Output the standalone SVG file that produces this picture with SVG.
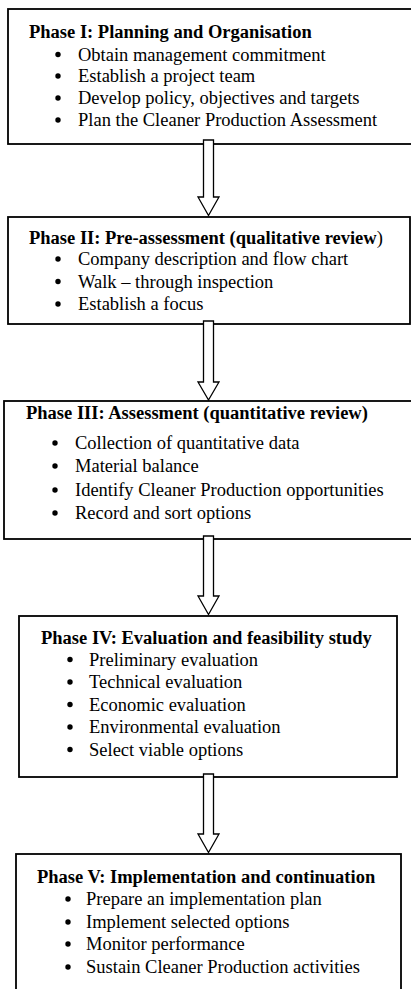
<svg xmlns="http://www.w3.org/2000/svg" width="411" height="989" viewBox="0 0 411 989">
<style>
.box{fill:#fff;stroke:#000;stroke-width:1.8}
.arr{fill:#fff;stroke:#000;stroke-width:1.3;stroke-linejoin:miter}
text{font-family:"Liberation Serif","Times New Roman",serif;font-size:18.5px;fill:#000}
.t{font-weight:bold}
.dot{fill:#000}
</style>
<rect width="411" height="989" fill="#fff"/>
<g id="phase1">
<rect class="box" x="8" y="9" width="410" height="135"/>
<text class="t" x="29" y="37.5">Phase I: Planning and Organisation</text>
<circle class="dot" cx="58" cy="54.5" r="2.7"/><text x="78" y="60.5">Obtain management commitment</text>
<circle class="dot" cx="58" cy="76" r="2.7"/><text x="78" y="82">Establish a project team</text>
<circle class="dot" cx="58" cy="98" r="2.7"/><text x="78" y="104">Develop policy, objectives and targets</text>
<circle class="dot" cx="58" cy="120" r="2.7"/><text x="78" y="126">Plan the Cleaner Production Assessment</text>
</g>
<g id="phase2">
<rect class="box" x="8" y="217" width="402" height="107"/>
<text class="t" x="29" y="244">Phase II: Pre-assessment (qualitative review<tspan font-weight="normal">)</tspan></text>
<circle class="dot" cx="58" cy="259" r="2.7"/><text x="78" y="265">Company description and flow chart</text>
<circle class="dot" cx="58" cy="281.5" r="2.7"/><text x="78" y="287.5">Walk – through inspection</text>
<circle class="dot" cx="58" cy="304" r="2.7"/><text x="78" y="310">Establish a focus</text>
</g>
<g id="phase3">
<rect class="box" x="4" y="401" width="410" height="138"/>
<text class="t" x="26" y="418.5">Phase III: Assessment (quantitative review)</text>
<circle class="dot" cx="55" cy="443" r="2.7"/><text x="75" y="449">Collection of quantitative data</text>
<circle class="dot" cx="55" cy="466" r="2.7"/><text x="75" y="472">Material balance</text>
<circle class="dot" cx="55" cy="490" r="2.7"/><text x="75" y="496">Identify Cleaner Production opportunities</text>
<circle class="dot" cx="55" cy="513" r="2.7"/><text x="75" y="519">Record and sort options</text>
</g>
<g id="phase4">
<rect class="box" x="19" y="616" width="378" height="161"/>
<text class="t" x="41" y="643.5">Phase IV: Evaluation and feasibility study</text>
<circle class="dot" cx="70" cy="659.5" r="2.7"/><text x="89" y="665.5">Preliminary evaluation</text>
<circle class="dot" cx="70" cy="682" r="2.7"/><text x="89" y="688">Technical evaluation</text>
<circle class="dot" cx="70" cy="704.5" r="2.7"/><text x="89" y="710.5">Economic evaluation</text>
<circle class="dot" cx="70" cy="727" r="2.7"/><text x="89" y="733">Environmental evaluation</text>
<circle class="dot" cx="70" cy="749.5" r="2.7"/><text x="89" y="755.5">Select viable options</text>
</g>
<g id="phase5">
<rect class="box" x="16" y="854" width="385" height="150"/>
<text class="t" x="37" y="882.5">Phase V: Implementation and continuation</text>
<circle class="dot" cx="68" cy="899" r="2.7"/><text x="86" y="905">Prepare an implementation plan</text>
<circle class="dot" cx="68" cy="922" r="2.7"/><text x="86" y="928">Implement selected options</text>
<circle class="dot" cx="68" cy="944" r="2.7"/><text x="86" y="950">Monitor performance</text>
<circle class="dot" cx="68" cy="967" r="2.7"/><text x="86" y="973">Sustain Cleaner Production activities</text>
</g>
<g id="connectors">
<path class="arr" d="M203.5 140 H213.5 V197 H219 L208.5 215.5 L198 197 H203.5 Z"/>
<path class="arr" d="M203.5 321 H213.5 V382 H219 L208.5 400 L198 382 H203.5 Z"/>
<path class="arr" d="M203.5 536 H213.5 V596 H219 L208.5 614.5 L198 596 H203.5 Z"/>
<path class="arr" d="M203.5 774 H213.5 V834 H219 L208.5 852.5 L198 834 H203.5 Z"/>
</g>
</svg>
